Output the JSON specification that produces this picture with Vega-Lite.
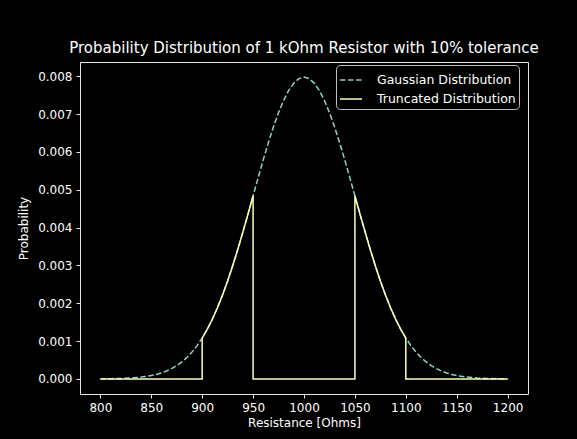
{
  "$schema": "https://vega.github.io/schema/vega-lite/v6.json",
  "width": 448,
  "height": 332,
  "autosize": {"type": "none"},
  "padding": {"left": 80, "top": 62, "right": 49, "bottom": 45},
  "background": "#000000",
  "title": {"text": "Probability Distribution of 1 kOhm Resistor with 10% tolerance"},
  "data": {"values": [
    {"series": "Gaussian Distribution", "i": 0, "x": 800, "y": 0.0000027},
    {"series": "Gaussian Distribution", "i": 1, "x": 810, "y": 0.0000058},
    {"series": "Gaussian Distribution", "i": 2, "x": 820, "y": 0.0000122},
    {"series": "Gaussian Distribution", "i": 3, "x": 830, "y": 0.0000246},
    {"series": "Gaussian Distribution", "i": 4, "x": 840, "y": 0.0000477},
    {"series": "Gaussian Distribution", "i": 5, "x": 850, "y": 0.0000886},
    {"series": "Gaussian Distribution", "i": 6, "x": 855, "y": 0.000119},
    {"series": "Gaussian Distribution", "i": 7, "x": 860, "y": 0.000158},
    {"series": "Gaussian Distribution", "i": 8, "x": 865, "y": 0.000208},
    {"series": "Gaussian Distribution", "i": 9, "x": 870, "y": 0.000272},
    {"series": "Gaussian Distribution", "i": 10, "x": 875, "y": 0.000351},
    {"series": "Gaussian Distribution", "i": 11, "x": 880, "y": 0.000448},
    {"series": "Gaussian Distribution", "i": 12, "x": 885, "y": 0.000567},
    {"series": "Gaussian Distribution", "i": 13, "x": 890, "y": 0.000709},
    {"series": "Gaussian Distribution", "i": 14, "x": 895, "y": 0.000880},
    {"series": "Gaussian Distribution", "i": 15, "x": 900, "y": 0.001080},
    {"series": "Gaussian Distribution", "i": 16, "x": 905, "y": 0.001312},
    {"series": "Gaussian Distribution", "i": 17, "x": 910, "y": 0.001579},
    {"series": "Gaussian Distribution", "i": 18, "x": 915, "y": 0.001881},
    {"series": "Gaussian Distribution", "i": 19, "x": 920, "y": 0.002218},
    {"series": "Gaussian Distribution", "i": 20, "x": 925, "y": 0.002590},
    {"series": "Gaussian Distribution", "i": 21, "x": 930, "y": 0.002995},
    {"series": "Gaussian Distribution", "i": 22, "x": 935, "y": 0.003427},
    {"series": "Gaussian Distribution", "i": 23, "x": 940, "y": 0.003884},
    {"series": "Gaussian Distribution", "i": 24, "x": 945, "y": 0.004357},
    {"series": "Gaussian Distribution", "i": 25, "x": 950, "y": 0.004839},
    {"series": "Gaussian Distribution", "i": 26, "x": 955, "y": 0.005322},
    {"series": "Gaussian Distribution", "i": 27, "x": 960, "y": 0.005794},
    {"series": "Gaussian Distribution", "i": 28, "x": 965, "y": 0.006245},
    {"series": "Gaussian Distribution", "i": 29, "x": 970, "y": 0.006664},
    {"series": "Gaussian Distribution", "i": 30, "x": 975, "y": 0.007041},
    {"series": "Gaussian Distribution", "i": 31, "x": 980, "y": 0.007365},
    {"series": "Gaussian Distribution", "i": 32, "x": 985, "y": 0.007628},
    {"series": "Gaussian Distribution", "i": 33, "x": 990, "y": 0.007821},
    {"series": "Gaussian Distribution", "i": 34, "x": 995, "y": 0.007939},
    {"series": "Gaussian Distribution", "i": 35, "x": 1000, "y": 0.007979},
    {"series": "Gaussian Distribution", "i": 36, "x": 1005, "y": 0.007939},
    {"series": "Gaussian Distribution", "i": 37, "x": 1010, "y": 0.007821},
    {"series": "Gaussian Distribution", "i": 38, "x": 1015, "y": 0.007628},
    {"series": "Gaussian Distribution", "i": 39, "x": 1020, "y": 0.007365},
    {"series": "Gaussian Distribution", "i": 40, "x": 1025, "y": 0.007041},
    {"series": "Gaussian Distribution", "i": 41, "x": 1030, "y": 0.006664},
    {"series": "Gaussian Distribution", "i": 42, "x": 1035, "y": 0.006245},
    {"series": "Gaussian Distribution", "i": 43, "x": 1040, "y": 0.005794},
    {"series": "Gaussian Distribution", "i": 44, "x": 1045, "y": 0.005322},
    {"series": "Gaussian Distribution", "i": 45, "x": 1050, "y": 0.004839},
    {"series": "Gaussian Distribution", "i": 46, "x": 1055, "y": 0.004357},
    {"series": "Gaussian Distribution", "i": 47, "x": 1060, "y": 0.003884},
    {"series": "Gaussian Distribution", "i": 48, "x": 1065, "y": 0.003427},
    {"series": "Gaussian Distribution", "i": 49, "x": 1070, "y": 0.002995},
    {"series": "Gaussian Distribution", "i": 50, "x": 1075, "y": 0.002590},
    {"series": "Gaussian Distribution", "i": 51, "x": 1080, "y": 0.002218},
    {"series": "Gaussian Distribution", "i": 52, "x": 1085, "y": 0.001881},
    {"series": "Gaussian Distribution", "i": 53, "x": 1090, "y": 0.001579},
    {"series": "Gaussian Distribution", "i": 54, "x": 1095, "y": 0.001312},
    {"series": "Gaussian Distribution", "i": 55, "x": 1100, "y": 0.001080},
    {"series": "Gaussian Distribution", "i": 56, "x": 1105, "y": 0.000880},
    {"series": "Gaussian Distribution", "i": 57, "x": 1110, "y": 0.000709},
    {"series": "Gaussian Distribution", "i": 58, "x": 1115, "y": 0.000567},
    {"series": "Gaussian Distribution", "i": 59, "x": 1120, "y": 0.000448},
    {"series": "Gaussian Distribution", "i": 60, "x": 1125, "y": 0.000351},
    {"series": "Gaussian Distribution", "i": 61, "x": 1130, "y": 0.000272},
    {"series": "Gaussian Distribution", "i": 62, "x": 1135, "y": 0.000208},
    {"series": "Gaussian Distribution", "i": 63, "x": 1140, "y": 0.000158},
    {"series": "Gaussian Distribution", "i": 64, "x": 1145, "y": 0.000119},
    {"series": "Gaussian Distribution", "i": 65, "x": 1150, "y": 0.0000886},
    {"series": "Gaussian Distribution", "i": 66, "x": 1160, "y": 0.0000477},
    {"series": "Gaussian Distribution", "i": 67, "x": 1170, "y": 0.0000246},
    {"series": "Gaussian Distribution", "i": 68, "x": 1180, "y": 0.0000122},
    {"series": "Gaussian Distribution", "i": 69, "x": 1190, "y": 0.0000058},
    {"series": "Gaussian Distribution", "i": 70, "x": 1200, "y": 0.0000027},
    {"series": "Truncated Distribution", "i": 0, "x": 800, "y": 0},
    {"series": "Truncated Distribution", "i": 1, "x": 900, "y": 0},
    {"series": "Truncated Distribution", "i": 2, "x": 900, "y": 0.001080},
    {"series": "Truncated Distribution", "i": 3, "x": 905, "y": 0.001312},
    {"series": "Truncated Distribution", "i": 4, "x": 910, "y": 0.001579},
    {"series": "Truncated Distribution", "i": 5, "x": 915, "y": 0.001881},
    {"series": "Truncated Distribution", "i": 6, "x": 920, "y": 0.002218},
    {"series": "Truncated Distribution", "i": 7, "x": 925, "y": 0.002590},
    {"series": "Truncated Distribution", "i": 8, "x": 930, "y": 0.002995},
    {"series": "Truncated Distribution", "i": 9, "x": 935, "y": 0.003427},
    {"series": "Truncated Distribution", "i": 10, "x": 940, "y": 0.003884},
    {"series": "Truncated Distribution", "i": 11, "x": 945, "y": 0.004357},
    {"series": "Truncated Distribution", "i": 12, "x": 950, "y": 0.004839},
    {"series": "Truncated Distribution", "i": 13, "x": 950, "y": 0},
    {"series": "Truncated Distribution", "i": 14, "x": 1050, "y": 0},
    {"series": "Truncated Distribution", "i": 15, "x": 1050, "y": 0.004839},
    {"series": "Truncated Distribution", "i": 16, "x": 1055, "y": 0.004357},
    {"series": "Truncated Distribution", "i": 17, "x": 1060, "y": 0.003884},
    {"series": "Truncated Distribution", "i": 18, "x": 1065, "y": 0.003427},
    {"series": "Truncated Distribution", "i": 19, "x": 1070, "y": 0.002995},
    {"series": "Truncated Distribution", "i": 20, "x": 1075, "y": 0.002590},
    {"series": "Truncated Distribution", "i": 21, "x": 1080, "y": 0.002218},
    {"series": "Truncated Distribution", "i": 22, "x": 1085, "y": 0.001881},
    {"series": "Truncated Distribution", "i": 23, "x": 1090, "y": 0.001579},
    {"series": "Truncated Distribution", "i": 24, "x": 1095, "y": 0.001312},
    {"series": "Truncated Distribution", "i": 25, "x": 1100, "y": 0.001080},
    {"series": "Truncated Distribution", "i": 26, "x": 1100, "y": 0},
    {"series": "Truncated Distribution", "i": 27, "x": 1200, "y": 0}
  ]},
  "mark": {"type": "line", "strokeWidth": 1.5, "clip": true},
  "encoding": {
    "x": {
      "field": "x", "type": "quantitative",
      "scale": {"domain": [780, 1220], "nice": false, "zero": false},
      "axis": {"title": "Resistance [Ohms]", "values": [800, 850, 900, 950, 1000, 1050, 1100, 1150, 1200], "format": "d"}
    },
    "y": {
      "field": "y", "type": "quantitative",
      "scale": {"domain": [-0.000399, 0.008378], "nice": false, "zero": false},
      "axis": {"title": "Probability", "values": [0, 0.001, 0.002, 0.003, 0.004, 0.005, 0.006, 0.007, 0.008], "format": ".3f"}
    },
    "color": {
      "field": "series", "type": "nominal",
      "scale": {"domain": ["Gaussian Distribution", "Truncated Distribution"], "range": ["#8dd3c7", "#feffb3"]},
      "legend": {"title": null, "orient": "none", "legendX": 256, "legendY": 3}
    },
    "strokeDash": {
      "field": "series", "type": "nominal",
      "scale": {"domain": ["Gaussian Distribution", "Truncated Distribution"], "range": [[5.5, 2.5], [1, 0]]},
      "legend": {"title": null, "orient": "none", "legendX": 256, "legendY": 3}
    },
    "order": {"field": "i", "type": "quantitative"}
  },
  "config": {
    "font": "DejaVu Sans",
    "view": {"stroke": "#e6e6e6", "strokeWidth": 1, "fill": "#000000"},
    "title": {"color": "#ffffff", "font": "DejaVu Sans", "fontSize": 15, "fontWeight": "normal", "anchor": "middle", "offset": 6},
    "axis": {
      "grid": false,
      "domain": false,
      "tickColor": "#e6e6e6",
      "tickSize": 4,
      "tickWidth": 1,
      "labelColor": "#ffffff",
      "labelFont": "DejaVu Sans",
      "labelFontSize": 12,
      "labelPadding": 4,
      "titleColor": "#ffffff",
      "titleFont": "DejaVu Sans",
      "titleFontSize": 12,
      "titleFontWeight": "normal"
    },
    "axisX": {"titlePadding": 4},
    "axisY": {"titlePadding": 7},
    "legend": {
      "fillColor": "#000000",
      "strokeColor": "#bfbfbf",
      "cornerRadius": 4,
      "padding": 3,
      "rowPadding": -3,
      "labelColor": "#ffffff",
      "labelFont": "DejaVu Sans",
      "labelFontSize": 12.5,
      "labelOffset": 14,
      "symbolType": "stroke",
      "symbolSize": 484,
      "symbolStrokeWidth": 1.5
    }
  }
}
